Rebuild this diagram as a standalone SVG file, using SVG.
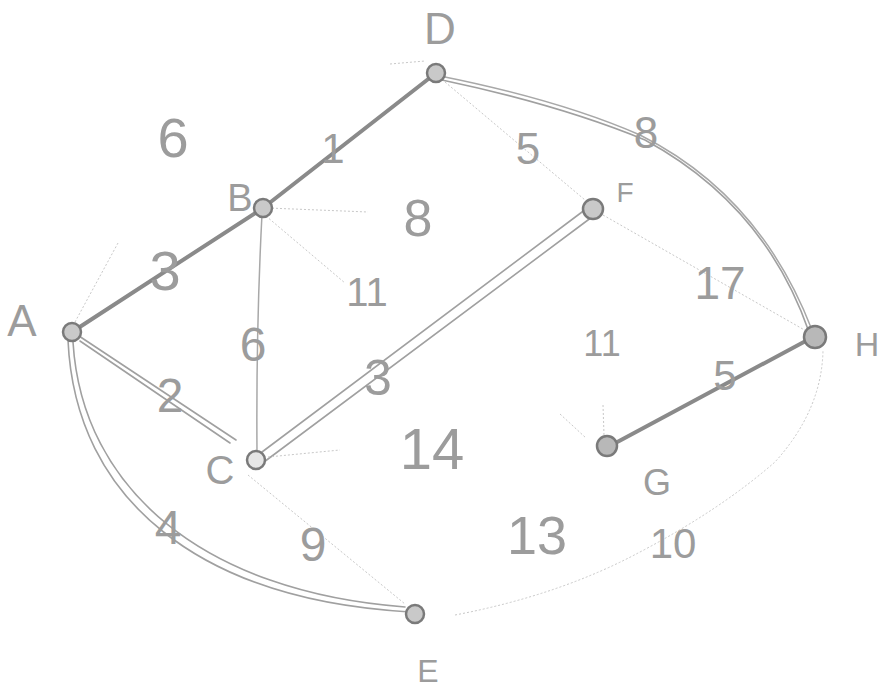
<svg xmlns="http://www.w3.org/2000/svg" width="891" height="694" viewBox="0 0 891 694">
<style>
.lbl{font-family:"Liberation Sans",Arial,sans-serif;fill:#9c9c9c;text-anchor:middle}
.heavy{stroke:#8a8a8a;stroke-width:4;fill:none;stroke-linecap:round}
.dbl{stroke:#a0a0a0;stroke-width:1.6;fill:none;stroke-linecap:round}
.faint{stroke:#c8c8c8;stroke-width:1;fill:none;stroke-dasharray:2 2}
.med{stroke:#a8a8a8;stroke-width:1.5;fill:none}
.node circle{fill:#c9c9c9;stroke:#7a7a7a;stroke-width:2.5}
</style>
<rect width="891" height="694" fill="#ffffff"/>
<g id="connectors">
<line class="heavy" x1="72" y1="332" x2="263" y2="208"/>
<line class="heavy" x1="263" y1="208" x2="436" y2="73"/>
<line class="dbl" x1="76" y1="334" x2="236" y2="440"/>
<line class="dbl" x1="80" y1="341" x2="230" y2="443"/>
<path class="med" d="M262,214 Q256,330 257,452"/>
<line class="dbl" x1="258" y1="455" x2="590" y2="206"/>
<line class="dbl" x1="264" y1="462" x2="596" y2="214"/>
<path class="dbl" d="M68,340 C75,500 200,600 410,612"/>
<path class="dbl" d="M73,342 C82,490 205,592 405,607"/>
<path class="med" d="M440,76 Q560,100 640,135 Q760,195 812,330"/>
<path class="dbl" d="M442,80 Q560,105 645,140 Q765,205 809,332" stroke="#c0c0c0" stroke-width="1"/>
<line class="heavy" x1="608" y1="447" x2="815" y2="336" stroke-width="3"/>
<line class="faint" x1="75" y1="322" x2="118" y2="243"/>
<line class="faint" x1="268" y1="208" x2="368" y2="212"/>
<line class="faint" x1="266" y1="216" x2="345" y2="283"/>
<line class="faint" x1="268" y1="457" x2="340" y2="450"/>
<line class="faint" x1="248" y1="475" x2="405" y2="604"/>
<line class="faint" x1="445" y1="82" x2="585" y2="200"/>
<line class="faint" x1="603" y1="215" x2="808" y2="332"/>
<line class="faint" x1="390" y1="64" x2="425" y2="61"/>
<line class="faint" x1="603" y1="405" x2="604" y2="435"/>
<line class="faint" x1="560" y1="414" x2="586" y2="438"/>
<path class="faint" d="M455,615 Q560,595 640,552 Q720,510 775,462 Q822,410 823,350"/>
</g>
<g id="node-A" class="node"><circle cx="72" cy="332" r="9"/></g>
<g id="node-B" class="node"><circle cx="263" cy="208" r="9"/></g>
<g id="node-C" class="node"><circle cx="256" cy="460" r="9" style="fill:#e6e6e6"/></g>
<g id="node-D" class="node"><circle cx="436" cy="73" r="9"/></g>
<g id="node-E" class="node"><circle cx="415" cy="614" r="9"/></g>
<g id="node-F" class="node"><circle cx="593" cy="209" r="10"/></g>
<g id="node-G" class="node"><circle cx="607" cy="446" r="10" style="fill:#b8b8b8"/></g>
<g id="node-H" class="node"><circle cx="815" cy="337" r="11" style="fill:#b8b8b8"/></g>
<g id="labels">
<text class="lbl" x="440" y="44" font-size="44">D</text>
<text class="lbl" x="240" y="211" font-size="38">B</text>
<text class="lbl" x="22" y="336" font-size="44">A</text>
<text class="lbl" x="220" y="484" font-size="40">C</text>
<text class="lbl" x="428" y="682" font-size="32">E</text>
<text class="lbl" x="625" y="202" font-size="28">F</text>
<text class="lbl" x="657" y="495" font-size="36">G</text>
<text class="lbl" x="867" y="356" font-size="34">H</text>
<text class="lbl" x="173" y="157" font-size="56">6</text>
<text class="lbl" x="333" y="163" font-size="42">1</text>
<text class="lbl" x="418" y="236" font-size="52">8</text>
<text class="lbl" x="165" y="290" font-size="56">3</text>
<text class="lbl" x="367" y="306" font-size="40">11</text>
<text class="lbl" x="253" y="361" font-size="48">6</text>
<text class="lbl" x="170" y="412" font-size="48">2</text>
<text class="lbl" x="378" y="395" font-size="50">3</text>
<text class="lbl" x="432" y="469" font-size="58">14</text>
<text class="lbl" x="168" y="544" font-size="48">4</text>
<text class="lbl" x="313" y="561" font-size="48">9</text>
<text class="lbl" x="528" y="164" font-size="44">5</text>
<text class="lbl" x="646" y="148" font-size="44">8</text>
<text class="lbl" x="720" y="299" font-size="46">17</text>
<text class="lbl" x="602" y="356" font-size="36">11</text>
<text class="lbl" x="725" y="390" font-size="42">5</text>
<text class="lbl" x="537" y="554" font-size="54">13</text>
<text class="lbl" x="673" y="558" font-size="42">10</text>
</g>
</svg>
